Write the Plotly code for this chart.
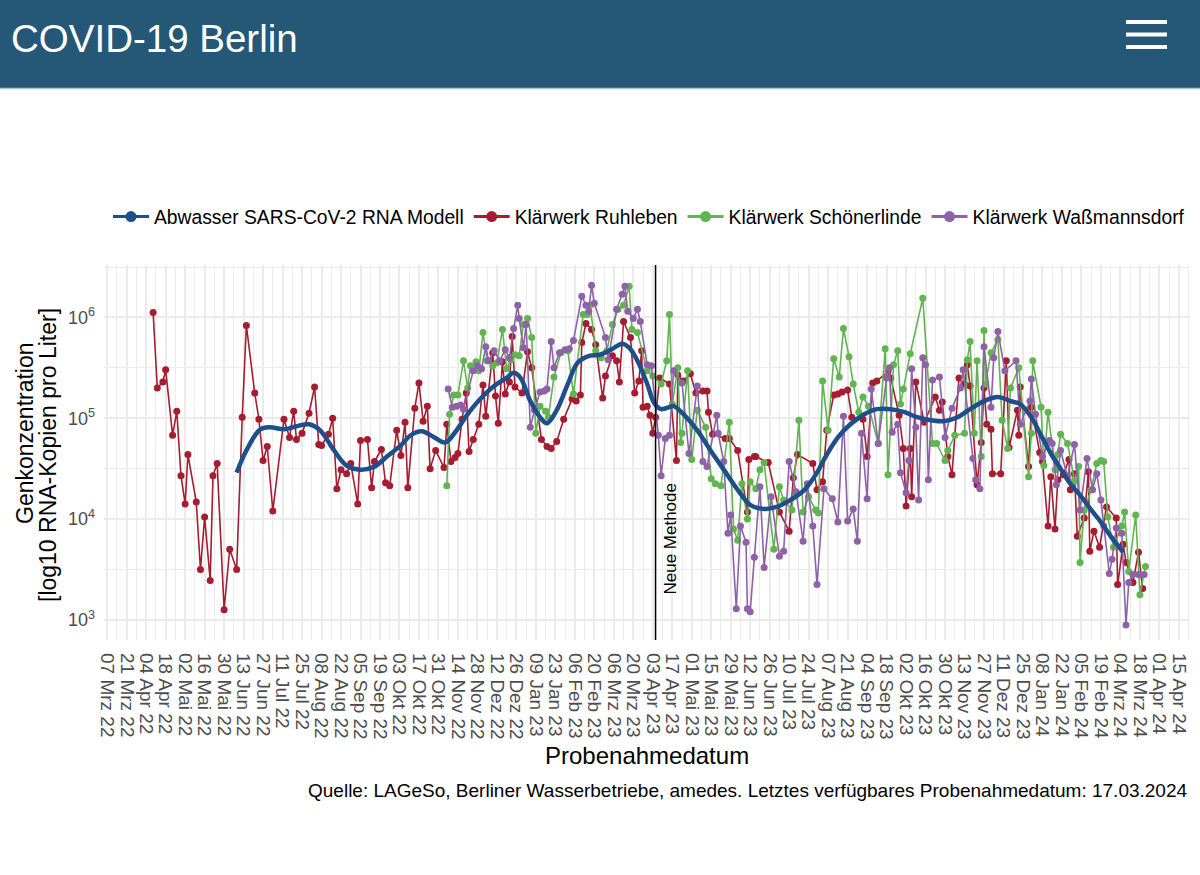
import numpy as np
import pandas as pd
import plotly.graph_objects as go

# ---------------- data (day offset from BASE_DATE, log10 copies per litre) ----------------
BASE_DATE = "2022-03-07"
METHOD_CHANGE_DAY = 394  # "Neue Methode"

ruhleben_day = [33, 36, 40, 42, 47, 50, 53, 56, 58, 64, 67, 70, 74, 76, 79, 84, 88, 93, 97, 100,
                106, 109, 112, 115, 119, 127, 131, 134, 136, 140, 145, 149, 152, 154, 159, 162, 165, 168, 172, 175,
                180, 182, 187, 190, 192, 197, 200, 203, 208, 211, 214, 216, 221, 224, 227, 230, 232, 236, 242, 244,
                247, 250, 252, 255, 258, 260, 263, 267, 270, 272, 277, 279, 281, 284, 286, 289, 291, 293, 298, 302,
                305, 312, 316, 319, 323, 328, 334, 337, 340, 341, 344, 348, 351, 356, 358, 363, 366, 368, 371, 376,
                379, 382, 384, 385, 388, 390, 392, 394, 397, 404, 409, 410, 414, 419, 423, 428, 431, 432, 435, 444,
                447, 453, 460, 461, 465, 466, 475, 483, 490, 493, 496, 507, 510, 514, 517, 522, 525, 528, 532, 535,
                543, 546, 550, 553, 561, 563, 569, 572, 574, 577, 578, 581, 587, 595, 598, 600, 604, 607, 612, 616,
                618, 620, 625, 628, 630, 632, 635, 636, 642, 646, 648, 654, 655, 656, 662, 664, 670, 672, 676, 678,
                681, 683, 687, 691, 692, 695, 697, 702, 705, 706, 709, 713, 718, 725, 726, 730, 732, 737, 741, 744]
ruhleben_log10 = [6.05, 5.30, 5.36, 5.48, 4.83, 5.07, 4.43, 4.15, 4.64, 4.17, 3.50, 4.02, 3.39, 4.43, 4.55, 3.10, 3.70, 3.50, 5.01, 5.92,
                  5.25, 4.99, 4.58, 4.72, 4.08, 4.99, 4.81, 5.07, 4.79, 4.85, 5.05, 5.31, 4.74, 4.73, 4.84, 5.00, 4.30, 4.49, 4.45, 4.55,
                  4.15, 4.78, 4.79, 4.31, 4.57, 4.69, 4.36, 4.33, 4.88, 4.63, 4.96, 4.31, 5.10, 5.35, 4.97, 5.12, 4.50, 4.68, 4.51, 4.94,
                  4.57, 4.61, 4.65, 4.99, 5.25, 4.67, 4.79, 4.94, 5.33, 5.02, 5.65, 5.22, 4.95, 5.56, 5.24, 5.36, 5.81, 5.31, 5.25, 5.66,
                  5.50, 4.79, 4.72, 4.70, 4.77, 4.99, 5.19, 5.17, 5.23, 5.75, 5.94, 5.88, 5.73, 5.20, 5.42, 5.62, 5.57, 5.36, 5.96, 5.80,
                  5.25, 5.37, 5.67, 5.11, 5.12, 5.03, 4.85, 5.01, 5.40, 5.34, 4.58, 5.43, 5.37, 5.44, 5.25, 5.27, 5.27, 5.06, 4.84, 4.80,
                  4.80, 4.68, 4.07, 4.59, 4.62, 4.62, 4.56, 4.07, 3.88, 4.41, 4.64, 4.55, 4.29, 4.37, 4.88, 5.23, 5.24, 5.26, 5.28, 5.01,
                  4.99, 4.62, 5.35, 5.37, 5.46, 5.40, 5.03, 4.70, 4.13, 4.70, 4.22, 5.36, 4.96, 5.21, 5.08, 5.16, 4.62, 4.44, 5.40, 5.34,
                  5.53, 5.32, 4.34, 4.76, 5.30, 4.94, 4.89, 4.45, 4.45, 5.57, 4.71, 5.08, 4.83, 5.31, 4.52, 5.11, 4.66, 4.57, 3.93, 4.42,
                  3.90, 4.39, 4.44, 4.59, 4.29, 4.45, 3.83, 4.01, 4.47, 3.68, 3.88, 3.72, 4.12, 4.01, 3.35, 3.75, 3.57, 3.37, 3.67, 3.31]

schoenerlinde_day = [244, 246, 249, 252, 256, 259, 261, 265, 267, 270, 273, 277, 280, 284, 287, 290, 293, 296, 299, 302,
                     305, 308, 311, 315, 317, 321, 326, 331, 335, 342, 345, 347, 351, 355, 359, 363, 367, 371, 375, 377,
                     381, 388, 392, 398, 402, 404, 406, 410, 412, 413, 417, 420, 424, 430, 434, 437, 441, 447, 450, 453,
                     456, 460, 462, 466, 469, 472, 479, 483, 486, 492, 497, 500, 504, 509, 511, 514, 518, 522, 526, 529,
                     533, 536, 540, 543, 547, 554, 559, 561, 565, 568, 570, 572, 577, 586, 593, 596, 602, 604, 609, 616,
                     618, 620, 623, 625, 628, 630, 631, 635, 640, 643, 647, 649, 655, 662, 664, 665, 671, 673, 676, 681,
                     683, 685, 690, 695, 698, 699, 702, 707, 711, 714, 716, 719, 723, 729, 731, 734, 739, 742, 746]
schoenerlinde_log10 = [4.33, 5.04, 5.23, 5.23, 5.57, 5.30, 5.52, 5.56, 5.47, 5.85, 5.57, 5.52, 5.55, 5.88, 5.49, 5.58, 5.63, 5.62, 5.93, 5.99,
                       5.80, 4.85, 5.12, 5.07, 5.01, 5.41, 5.65, 5.67, 5.24, 6.03, 6.03, 6.12, 5.67, 5.60, 5.67, 5.93, 6.08, 6.12, 6.31, 5.88,
                       5.85, 5.47, 5.42, 5.34, 5.57, 6.03, 5.14, 5.50, 4.76, 4.85, 5.47, 4.59, 5.08, 4.91, 4.40, 4.35, 4.33, 4.96, 3.90, 3.79,
                       4.35, 4.00, 4.37, 4.30, 4.49, 4.56, 3.70, 4.32, 4.19, 4.09, 4.98, 4.07, 4.22, 4.09, 4.06, 5.37, 4.88, 5.59, 5.41, 5.89,
                       5.61, 5.34, 5.06, 5.21, 5.12, 4.75, 5.69, 4.44, 5.53, 5.67, 5.14, 5.29, 5.64, 6.19, 4.75, 4.75, 4.58, 4.68, 4.83, 4.85,
                       5.58, 5.76, 4.85, 5.57, 4.62, 5.87, 5.34, 5.65, 5.78, 4.98, 4.70, 5.30, 5.50, 4.42, 4.85, 5.57, 5.11, 4.53, 5.06, 4.49,
                       4.64, 4.84, 4.75, 4.38, 4.52, 3.57, 4.09, 4.29, 4.55, 4.58, 4.57, 4.02, 3.72, 3.93, 4.07, 3.48, 4.04, 3.25, 3.53]

wassmannsdorf_day = [245, 248, 251, 254, 256, 263, 266, 269, 272, 274, 278, 282, 286, 289, 292, 295, 296, 299, 301, 304,
                     307, 311, 314, 316, 319, 321, 325, 329, 332, 335, 341, 344, 346, 348, 350, 358, 360, 366, 370, 372,
                     374, 378, 381, 383, 388, 391, 396, 398, 401, 404, 407, 413, 418, 424, 428, 431, 438, 439, 443, 446,
                     448, 452, 455, 459, 460, 462, 465, 469, 472, 477, 483, 486, 490, 495, 500, 503, 507, 510, 515, 521,
                     525, 529, 532, 536, 539, 542, 546, 549, 554, 560, 562, 564, 568, 570, 574, 576, 578, 581, 583, 586,
                     588, 590, 593, 598, 602, 607, 613, 615, 622, 624, 627, 630, 635, 637, 640, 645, 653, 656, 663, 664,
                     667, 672, 677, 679, 682, 685, 690, 695, 699, 704, 708, 711, 714, 716, 720, 722, 725, 729, 732, 734,
                     737, 741, 745]
wassmannsdorf_log10 = [5.29, 5.11, 5.12, 5.13, 5.09, 5.47, 5.52, 5.49, 5.71, 5.57, 5.67, 5.57, 5.68, 5.60, 5.89, 6.12, 5.99, 5.70, 5.93, 4.91,
                       5.08, 5.26, 5.27, 5.29, 5.76, 5.50, 5.65, 5.68, 5.69, 5.77, 6.21, 6.12, 6.06, 6.32, 6.14, 5.80, 5.58, 6.08, 6.23, 6.31,
                       6.06, 5.99, 6.08, 5.96, 5.53, 5.52, 4.83, 4.43, 4.80, 4.83, 5.47, 5.35, 4.65, 5.32, 4.57, 4.52, 5.03, 4.85, 4.57, 3.86,
                       4.04, 3.11, 3.93, 3.77, 3.11, 3.08, 3.62, 4.32, 3.52, 4.22, 3.63, 3.68, 4.57, 4.27, 3.78, 4.35, 3.93, 3.35, 4.30, 4.20,
                       3.97, 5.02, 3.98, 4.10, 3.78, 4.85, 4.20, 5.29, 4.75, 5.40, 5.50, 4.86, 4.94, 4.46, 4.26, 4.58, 5.49, 4.91, 4.19, 5.60,
                       5.53, 4.39, 5.38, 5.41, 4.81, 5.10, 5.30, 5.48, 4.60, 4.39, 4.30, 5.71, 5.11, 5.60, 5.86, 5.47, 5.57, 4.94, 5.17, 5.39,
                       5.04, 4.62, 4.78, 4.75, 4.34, 4.68, 4.42, 4.74, 4.09, 4.60, 4.29, 4.45, 4.19, 3.93, 3.46, 3.60, 3.91, 3.86, 2.95, 3.37,
                       3.45, 3.45, 3.45]

modell_day = [93, 100, 110, 117, 127, 136, 145, 153, 163, 172, 182, 192, 201, 211, 218, 226, 235, 243, 251, 259,
              268, 278, 287, 292, 297, 304, 311, 316, 323, 331, 338, 347, 354, 362, 370, 375, 381, 388, 393, 398,
              404, 407, 414, 424, 434, 443, 453, 462, 472, 481, 491, 501, 510, 515, 525, 534, 544, 553, 563, 573,
              582, 592, 601, 611, 620, 630, 640, 649, 656, 664, 671, 678, 685, 692, 700, 707, 714, 721, 730]
modell_log10 = [4.46, 4.68, 4.89, 4.91, 4.89, 4.92, 4.94, 4.88, 4.68, 4.53, 4.49, 4.52, 4.62, 4.73, 4.83, 4.87, 4.81, 4.76, 4.88, 5.04,
                5.19, 5.32, 5.40, 5.45, 5.40, 5.17, 5.01, 4.95, 5.08, 5.34, 5.55, 5.62, 5.63, 5.68, 5.74, 5.70, 5.57, 5.34, 5.15, 5.09,
                5.11, 5.12, 5.04, 4.88, 4.67, 4.49, 4.29, 4.14, 4.10, 4.12, 4.19, 4.29, 4.46, 4.59, 4.81, 4.94, 5.04, 5.09, 5.09, 5.06,
                5.01, 4.98, 4.97, 5.01, 5.09, 5.17, 5.21, 5.17, 5.14, 5.01, 4.83, 4.65, 4.50, 4.35, 4.22, 4.09, 3.97, 3.83, 3.67]

MONTHS_DE = ["Jan", "Feb", "Mrz", "Apr", "Mai", "Jun", "Jul", "Aug", "Sep", "Okt", "Nov", "Dez"]
tick_dates = pd.date_range("2022-03-07", "2024-04-15", freq="14D")
tick_labels = [f"{d.day:02d} {MONTHS_DE[d.month - 1]} {d.year % 100:02d}" for d in tick_dates]

Y_TICKS = [1e3, 1e4, 1e5, 1e6]
Y_TICK_TEXT = ["10<sup>3</sup>", "10<sup>4</sup>", "10<sup>5</sup>", "10<sup>6</sup>"]

COL_MODEL = "#1d4f8a"
COL_RUH = "#a51d30"
COL_SCH = "#61b451"
COL_WAS = "#8e62a6"
FONT = "Liberation Sans, Arial, Helvetica, sans-serif"

base = pd.to_datetime(BASE_DATE)


def to_dates(days):
    return base + pd.to_timedelta(days, unit="D")


def conc(logs):
    return np.power(10.0, np.array(logs))


# ---------------- layout helpers (pixel -> paper) ----------------
W, H = 1200, 875
L, R, T, B = 104, 10, 265, 235
PW, PH = W - L - R, H - T - B


def px(xp):
    return (xp - L) / PW


def py(yp):
    return (H - B - yp) / PH


fig = go.Figure()

station_specs = [
    ("Klärwerk Ruhleben", ruhleben_day, ruhleben_log10, COL_RUH),
    ("Klärwerk Schönerlinde", schoenerlinde_day, schoenerlinde_log10, COL_SCH),
    ("Klärwerk Waßmannsdorf", wassmannsdorf_day, wassmannsdorf_log10, COL_WAS),
]
for name, days, logs, col in station_specs:
    fig.add_trace(go.Scatter(
        x=to_dates(days), y=conc(logs), name=name, mode="lines+markers",
        line=dict(color=col, width=1.6), marker=dict(color=col, size=7),
        showlegend=False, hoverinfo="skip"))

fig.add_trace(go.Scatter(
    x=to_dates(modell_day), y=conc(modell_log10), name="Abwasser SARS-CoV-2 RNA Modell",
    mode="lines", line=dict(color=COL_MODEL, width=4.5, shape="spline", smoothing=1.0),
    showlegend=False, hoverinfo="skip"))

# legend entries (point + line key like the original)
legend_specs = [("Abwasser SARS-CoV-2 RNA Modell", COL_MODEL)] + [(n, c) for n, _, _, c in station_specs]
for name, col in legend_specs:
    fig.add_trace(go.Scatter(
        x=[None], y=[None], name=name, mode="lines+markers",
        line=dict(color=col, width=3), marker=dict(color=col, size=11)))

method_date = to_dates([METHOD_CHANGE_DAY])[0]

shapes = [
    dict(type="rect", xref="paper", yref="paper", x0=px(0), x1=px(W), y0=py(88), y1=py(0),
         fillcolor="#245876", line=dict(width=0), layer="above"),
    dict(type="line", xref="paper", yref="paper", x0=px(0), x1=px(W), y0=py(88.5), y1=py(88.5),
         line=dict(color="#a9c6d8", width=1.5)),
    dict(type="line", xref="x", yref="paper", x0=method_date, x1=method_date, y0=0, y1=1,
         line=dict(color="black", width=1.5)),
]
for yy in (22, 34.5, 47):
    shapes.append(dict(type="line", xref="paper", yref="paper", x0=px(1126), x1=px(1167),
                       y0=py(yy), y1=py(yy), line=dict(color="white", width=4)))

annotations = [
    dict(text="COVID-19 Berlin", xref="paper", yref="paper", x=px(9), y=py(38), xanchor="left",
         yanchor="middle", showarrow=False, font=dict(family=FONT, size=38.5, color="white")),
    dict(text="Genkonzentration", xref="paper", yref="paper",
         x=px(25), y=py(433), xanchor="center", yanchor="middle", textangle=-90, showarrow=False,
         font=dict(family=FONT, size=23, color="black")),
    dict(text="[log10 RNA-Kopien pro Liter]", xref="paper", yref="paper",
         x=px(48), y=py(455), xanchor="center", yanchor="middle", textangle=-90, showarrow=False,
         font=dict(family=FONT, size=23, color="black")),
    dict(text="Probenahmedatum", xref="paper", yref="paper", x=px(647), y=py(755), xanchor="center",
         yanchor="middle", showarrow=False, font=dict(family=FONT, size=24, color="black")),
    dict(text="Quelle: LAGeSo, Berliner Wasserbetriebe, amedes. Letztes verfügbares Probenahmedatum: 17.03.2024",
         xref="paper", yref="paper", x=px(1190), y=py(790), xanchor="right", yanchor="middle",
         showarrow=False, font=dict(family=FONT, size=19, color="black")),
    dict(text="Neue Methode", xref="x", yref="paper", x=method_date, xshift=14, y=py(597),
         xanchor="center", yanchor="bottom", textangle=-90, showarrow=False,
         font=dict(family=FONT, size=17, color="black")),
]

fig.update_layout(
    width=W, height=H, autosize=False,
    margin=dict(l=L, r=R, t=T, b=B, pad=0),
    paper_bgcolor="white", plot_bgcolor="white",
    font=dict(family=FONT, color="black"),
    showlegend=True,
    legend=dict(orientation="h", x=1.0, xanchor="right", y=py(217), yanchor="middle",
                font=dict(family=FONT, size=19.3, color="black"), bgcolor="rgba(0,0,0,0)",
                itemwidth=36, traceorder="normal"),
    shapes=shapes, annotations=annotations,
    hovermode=False,
)

fig.update_xaxes(
    type="date", range=[to_dates([-2.3])[0], to_dates([778])[0]],
    tickmode="array", tickvals=tick_dates, ticktext=tick_labels, tickangle=90,
    tickfont=dict(family=FONT, size=19, color="#4d4d4d"),
    showgrid=True, gridcolor="#ebebeb", gridwidth=1.5,
    minor=dict(tickmode="linear", tick0="2022-03-14", dtick=14 * 86400000, showgrid=True,
               gridcolor="#ececec", gridwidth=1.1),
    zeroline=False, showline=False, ticks="", ticklabelstandoff=12,
)
fig.update_yaxes(
    type="log", range=[2.8, 6.52],
    tickmode="array", tickvals=Y_TICKS, ticktext=Y_TICK_TEXT,
    tickfont=dict(family=FONT, size=18, color="#4d4d4d"),
    showgrid=True, gridcolor="#ebebeb", gridwidth=1.5,
    minor=dict(tickmode="linear", tick0=0, dtick=0.5, showgrid=True, gridcolor="#ececec", gridwidth=1.1),
    zeroline=False, showline=False, ticks="", ticklabelstandoff=8,
)

fig.write_html("out.html")
